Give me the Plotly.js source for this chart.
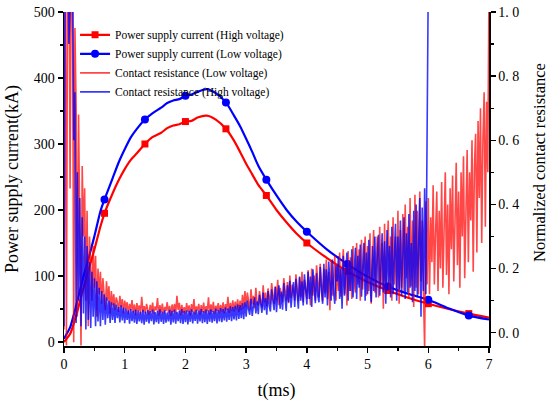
<!DOCTYPE html>
<html><head><meta charset="utf-8">
<script src="https://cdn.plot.ly/plotly-3.0.1.min.js"></script>
<style>html,body{margin:0;padding:0;background:#fff}#chart{width:550px;height:404px}</style>
</head><body><div id="chart"></div>
<script>
// ---- data ----
const tCur = [0,0.1,0.2,0.3,0.4,0.5,0.6,0.667,0.8,0.9,1.0,1.1,1.2,1.333,1.45,1.6,1.7,1.8,1.9,2.0,2.1,2.2,2.35,2.5,2.667,2.8,2.9,3.0,3.1,3.2,3.333,3.5,3.667,3.833,4.0,4.333,4.667,5.0,5.333,5.667,6.0,6.333,6.667,7.0];
const curHighV = [0,12,40,75,108,140,175,195,225,245,262,276,286,300,310,317,324,328,330,334,335,340,343,337,323,305,288,270,254,238,222,200,181,164,150,127,107,91,78,67,58,50,43,37];
const curLowV = [5,22,55,92,125,160,198,216,248,272,292,310,323,337,346,355,362,366,368,373,375,379,383,377,363,343,327,308,288,267,246,222,200,182,167,140,118,99,84,73,64,51,40,34];
const markerTimes = [0.667,1.333,2.0,2.667,3.333,4.0,4.667,5.333,6.0,6.667];

// contact resistance samples, start 0 ms, step 0.02 ms
const resStart = 0, resStep = 0.02;
const resLowV = [
0.01,1.25,-0.04,1.2,1.3,0.45,1.15,1.1,-0.03,0.95,
0.7,0.05,0.68,0.4,-0.04,0.52,0.3,0.45,0.1,0.38,
0.02,0.3,0.22,0.1,0.27,0.14,0.24,0.05,0.2,0.12,
0.19,0.09,0.17,0.12,0.07,0.16,0.1,0.145,0.06,0.13,
0.085,0.12,0.07,0.11,0.095,0.065,0.115,0.08,0.105,0.06,
0.1,0.075,0.095,0.058,0.09,0.07,0.102,0.062,0.088,0.055,
0.092,0.068,0.085,0.057,0.112,0.064,0.083,0.06,0.09,0.071,
0.056,0.087,0.066,0.094,0.058,0.082,0.07,0.108,0.054,0.086,
0.063,0.091,0.057,0.08,0.068,0.095,0.06,0.084,0.052,0.088,
0.065,0.09,0.058,0.115,0.071,0.093,0.055,0.087,0.062,0.08,
0.059,0.092,0.066,0.085,0.054,0.089,0.064,0.105,0.058,0.082,
0.069,0.09,0.056,0.086,0.063,0.094,0.06,0.083,0.067,0.11,
0.057,0.088,0.065,0.096,0.059,0.084,0.068,0.092,0.061,0.087,
0.064,0.095,0.06,0.089,0.07,0.112,0.062,0.093,0.067,0.101,
0.066,0.097,0.072,0.104,0.064,0.1,0.07,0.118,0.075,0.13,
0.08,0.125,0.095,0.072,0.135,0.088,0.115,0.076,0.14,0.092,
0.085,0.13,0.1,0.078,0.148,0.094,0.125,0.082,0.138,0.105,
0.088,0.155,0.11,0.09,0.145,0.1,0.165,0.086,0.14,0.118,
0.095,0.17,0.12,0.1,0.158,0.092,0.178,0.108,0.15,0.13,
0.1,0.182,0.125,0.098,0.172,0.11,0.19,0.095,0.165,0.14,
0.105,0.195,0.13,0.085,0.2,0.115,0.178,0.1,0.21,0.15,
0.11,0.215,0.14,0.098,0.2,0.122,0.228,0.105,0.19,0.07,
0.225,0.115,0.165,0.24,0.1,0.21,0.13,0.25,0.112,0.18,
0.26,0.12,0.2,0.085,0.255,0.13,0.235,0.105,0.27,0.16,
0.125,0.28,0.15,0.26,0.1,0.29,0.135,0.22,0.3,0.115,
0.27,0.13,0.31,0.09,0.25,0.32,0.125,0.2,0.3,0.11,
0.33,0.14,0.28,0.075,0.34,0.12,0.26,0.35,0.13,0.3,
0.1,0.36,0.15,0.3,0.12,0.38,0.09,0.32,0.14,0.37,
0.13,0.4,0.17,0.33,0.11,0.42,0.145,0.35,0.08,0.43,
0.14,0.38,0.12,0.44,0.16,0.35,0.13,-0.05,0.41,0.15,
0.42,0.12,0.36,0.22,0.46,0.15,0.31,0.44,0.13,0.38,
0.2,0.47,0.14,0.35,0.5,0.18,0.4,0.12,0.45,0.26,
0.49,0.16,0.38,0.53,0.21,0.44,0.14,0.5,0.3,0.55,
0.17,0.46,0.57,0.22,0.5,0.35,0.6,0.19,0.52,0.62,
0.25,0.66,0.42,0.7,0.28,0.6,0.75,0.33,0.72,0.5,
1.1];
const resHighV = [
0.02,1.3,1.2,1.25,0.9,1.15,1.1,1.2,0.6,0.75,
0.03,0.5,0.1,0.42,0.02,0.36,0.06,0.3,0.01,0.27,
0.04,0.22,0.015,0.19,0.05,0.17,0.02,0.16,0.035,0.14,
0.02,0.13,0.04,0.12,0.025,0.11,0.045,0.1,0.03,0.095,
0.04,0.092,0.03,0.088,0.045,0.08,0.032,0.085,0.038,0.078,
0.03,0.076,0.04,0.07,0.028,0.074,0.036,0.068,0.031,0.072,
0.027,0.069,0.035,0.065,0.03,0.071,0.025,0.066,0.034,0.07,
0.029,0.067,0.036,0.072,0.026,0.064,0.033,0.069,0.028,0.073,
0.034,0.066,0.027,0.07,0.031,0.063,0.035,0.071,0.025,0.068,
0.032,0.072,0.028,0.065,0.036,0.069,0.03,0.074,0.027,0.067,
0.033,0.07,0.026,0.068,0.034,0.073,0.029,0.066,0.037,0.071,
0.028,0.069,0.035,0.074,0.03,0.067,0.033,0.072,0.027,0.07,
0.034,0.073,0.031,0.068,0.036,0.075,0.029,0.071,0.035,0.077,
0.033,0.074,0.038,0.079,0.034,0.076,0.04,0.082,0.036,0.08,
0.041,0.084,0.038,0.088,0.043,0.086,0.045,0.092,0.042,0.095,
0.05,0.1,0.072,0.056,0.106,0.052,0.085,0.11,0.06,0.098,
0.058,0.118,0.09,0.062,0.125,0.07,0.108,0.056,0.13,0.083,
0.066,0.135,0.1,0.07,0.142,0.064,0.118,0.148,0.075,0.128,
0.072,0.155,0.11,0.068,0.148,0.095,0.162,0.078,0.125,0.158,
0.08,0.168,0.12,0.075,0.175,0.1,0.16,0.085,0.182,0.13,
0.088,0.19,0.105,0.175,0.08,0.198,0.14,0.092,0.185,0.115,
0.095,0.205,0.13,0.09,0.215,0.11,0.198,0.085,0.222,0.15,
0.1,0.228,0.125,0.09,0.21,0.16,0.238,0.105,0.2,0.075,
0.24,0.115,0.17,0.25,0.1,0.225,0.13,0.26,0.11,0.19,
0.265,0.105,0.24,0.14,0.275,0.112,0.21,0.28,0.1,0.25,
0.12,0.29,0.16,0.095,0.27,0.13,0.3,0.11,0.24,0.305,
0.115,0.2,0.31,0.125,0.285,0.09,0.32,0.15,0.27,0.11,
0.33,0.12,0.26,0.34,0.1,0.3,0.135,0.35,0.115,0.22,
0.36,0.105,0.31,0.125,0.37,0.14,0.28,0.095,0.38,0.13,
0.4,0.11,0.33,0.42,0.05,0.39,0.13,0.45,0.12,0.52,
1.1];
const xTicks = [0,1,2,3,4,5,6,7];
const yTicks = [0,100,200,300,400,500];
const y2TickVals = [0,0.2,0.4,0.6,0.8,1.0];
const y2TickText = ['0. 0','0. 2','0. 4','0. 6','0. 8','1. 0'];

// ---- figure ----
const RED = '#ff0000', BLUE = '#0000ff';
const FONT = '"Times New Roman", "Liberation Serif", serif';
const pick = (vals) => markerTimes.map(t => vals[tCur.indexOf(t)]);

const traces = [
  {type:'scatter', mode:'lines', name:'Contact resistance (Low voltage)', x0:resStart, dx:resStep, y:resLowV,
   yaxis:'y2', line:{color:'rgba(255,0,0,0.72)', width:1.6}, legendrank:3, hoverinfo:'skip'},
  {type:'scatter', mode:'lines', name:'Contact resistance (High voltage)', x0:resStart, dx:resStep, y:resHighV,
   yaxis:'y2', line:{color:'rgba(0,0,255,0.78)', width:1.6}, legendrank:4, hoverinfo:'skip'},
  {type:'scatter', mode:'lines', x:tCur, y:curHighV, line:{color:RED, width:2.2, shape:'spline', smoothing:0.6}, showlegend:false, legendgroup:'h'},
  {type:'scatter', mode:'markers', x:markerTimes, y:pick(curHighV), marker:{symbol:'square', size:7, color:RED}, showlegend:false, legendgroup:'h'},
  {type:'scatter', mode:'lines', x:tCur, y:curLowV, line:{color:BLUE, width:2.2, shape:'spline', smoothing:0.6}, showlegend:false, legendgroup:'l'},
  {type:'scatter', mode:'markers', x:markerTimes, y:pick(curLowV), marker:{symbol:'circle', size:8, color:BLUE}, showlegend:false, legendgroup:'l'},
  {type:'scatter', mode:'lines+markers', name:'Power supply current (High voltage)', x:[null], y:[null],
   line:{color:RED, width:2.2}, marker:{symbol:'square', size:7, color:RED}, legendrank:1, legendgroup:'h'},
  {type:'scatter', mode:'lines+markers', name:'Power supply current (Low voltage)', x:[null], y:[null],
   line:{color:BLUE, width:2.2}, marker:{symbol:'circle', size:8, color:BLUE}, legendrank:2, legendgroup:'l'}
];

const axCommon = {showline:true, linecolor:'#000', linewidth:1.5, ticks:'outside', ticklen:5, tickwidth:1.5, tickcolor:'#000',
  showgrid:false, zeroline:false, tickfont:{family:FONT, size:14, color:'#000'}};

const layout = {
  width:550, height:404,
  margin:{l:64, r:61, t:12, b:58, pad:0},
  paper_bgcolor:'#fff', plot_bgcolor:'#fff',
  font:{family:FONT, color:'#000'},
  showlegend:true,
  legend:{x:0.026, y:0.975, xanchor:'left', yanchor:'top', bgcolor:'rgba(0,0,0,0)', borderwidth:0,
          font:{family:FONT, size:11.5, color:'#000'}, tracegroupgap:0},
  xaxis:Object.assign({}, axCommon, {range:[0,7], tickvals:xTicks,
    minor:{dtick:0.5, tick0:0, ticks:'outside', ticklen:3, tickwidth:1.2, tickcolor:'#000'},
    title:{text:'t(ms)', font:{family:FONT, size:18}, standoff:12}}),
  xaxis2:{overlaying:'x', anchor:'y', side:'top', matches:'x', range:[0,7], showline:true, linecolor:'#000', linewidth:1.5,
    ticks:'inside', ticklen:5, tickwidth:1.5, tickcolor:'#000', tickvals:xTicks, showticklabels:false, showgrid:false, zeroline:false,
    minor:{dtick:0.5, tick0:0, ticks:'inside', ticklen:3, tickwidth:1.2, tickcolor:'#000'}},
  yaxis:Object.assign({}, axCommon, {range:[-6.1,500], tickvals:yTicks,
    minor:{dtick:50, tick0:0, ticks:'outside', ticklen:3, tickwidth:1.2, tickcolor:'#000'},
    title:{text:'Power supply current(kA)', font:{family:FONT, size:18}, standoff:10}}),
  yaxis2:Object.assign({}, axCommon, {overlaying:'y', side:'right', anchor:'x', range:[-0.0415,1.0],
    tickvals:y2TickVals, ticktext:y2TickText,
    minor:{dtick:0.1, tick0:0, ticks:'outside', ticklen:3, tickwidth:1.2, tickcolor:'#000'}}),
  annotations:[{text:'Normalized contact resistance', xref:'paper', yref:'paper', x:1.12, y:0.548,
    xanchor:'center', yanchor:'middle', textangle:-90, showarrow:false, font:{family:FONT, size:16.5, color:'#000'}}]
};

Plotly.newPlot('chart', traces, layout, {displayModeBar:false, staticPlot:true});
</script></body></html>
